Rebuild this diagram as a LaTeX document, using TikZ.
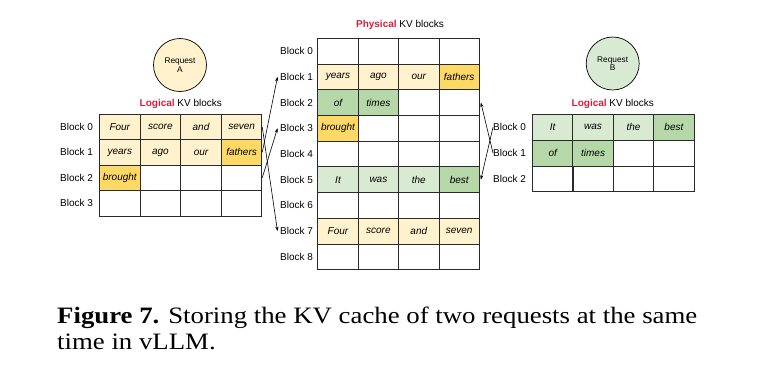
\documentclass[tikz,border=0pt]{standalone}
\usepackage{fontspec}
\setmainfont{Liberation Sans}
\newfontfamily\capfont[FakeStretch=1.14]{Liberation Serif}
\usetikzlibrary{arrows.meta}
\definecolor{ly}{HTML}{FFF2CC}
\definecolor{dy}{HTML}{FFD966}
\definecolor{lg}{HTML}{D9EAD3}
\definecolor{dg}{HTML}{B6D7A8}
\definecolor{redlab}{HTML}{D6203A}
\definecolor{gridc}{HTML}{2A2A2A}
\tikzset{
  cellbox/.style={draw=gridc, line width=0.8pt, inner sep=0pt, minimum width=40.5pt, minimum height=25.5pt, font=\fontsize{10}{12}\selectfont\itshape},
  blklab/.style={inner sep=0pt, font=\fontsize{10}{12}\selectfont},
  ttl/.style={inner sep=0pt, font=\fontsize{10}{12}\selectfont},
  reqc/.style={circle, draw=black, line width=0.7pt, minimum size=53pt, inner sep=0pt, align=center, font=\fontsize{8.3}{8.5}\selectfont},
  maparrow/.style={line width=0.6pt, -{Stealth[length=4.5pt,width=3.2pt]}},
  capline/.style={anchor=base west, inner sep=0pt, font=\capfont\fontsize{23.5}{26}\selectfont}
}
\begin{document}
\begin{tikzpicture}[x=1pt,y=-1pt]
\path[use as bounding box, fill=white] (0,0) rectangle (772,370);
% ---- titles
\node[ttl] (tL) at (180.8,104) {{\bfseries\color{redlab}Logical} KV blocks};
\node[ttl] (tP) at (400,25.3) {{\bfseries\color{redlab}Physical} KV blocks};
\node[ttl] (tR) at (612.8,104.3) {{\bfseries\color{redlab}Logical} KV blocks};
% ---- requests
\node[reqc, fill=ly] (reqA) at (180,65) {Request\\A};
\node[reqc, fill=lg] (reqB) at (612.7,63.5) {Request\\B};
% ---- left logical table
\foreach \r in {0,...,3}{
  \node[blklab, anchor=west] (Llab-\r) at (60,{114.3+25.4*(\r+0.5)}) {Block \r};
  \foreach \c in {0,...,3}{
    \node[cellbox] (L-\r-\c) at ({99.5+40.6*(\c+0.5)},{114.3+25.4*(\r+0.5)}) {};
  }
}
\foreach \r/\c/\t/\f in {0/0/Four/ly,0/1/score/ly,0/2/and/ly,0/3/seven/ly,
  1/0/years/ly,1/1/ago/ly,1/2/our/ly,1/3/fathers/dy,2/0/brought/dy}{
  \node[cellbox, fill=\f] (Lt-\r-\c) at (L-\r-\c) {\t};
}
% ---- physical table
\foreach \r in {0,...,8}{
  \node[blklab, anchor=west] (Plab-\r) at (280,{38.3+25.7*(\r+0.5)}) {Block \r};
  \foreach \c in {0,...,3}{
    \node[cellbox, minimum height=25.7pt] (P-\r-\c) at ({317.8+40.4*(\c+0.5)},{38.3+25.7*(\r+0.5)}) {};
  }
}
\foreach \r/\c/\t/\f in {1/0/years/ly,1/1/ago/ly,1/2/our/ly,1/3/fathers/dy,
  2/0/of/dg,2/1/times/dg,3/0/brought/dy,
  5/0/It/lg,5/1/was/lg,5/2/the/lg,5/3/best/dg,
  7/0/Four/ly,7/1/score/ly,7/2/and/ly,7/3/seven/ly}{
  \node[cellbox, minimum height=25.7pt, fill=\f] (Pt-\r-\c) at (P-\r-\c) {\t};
}
% ---- right logical table
\foreach \r in {0,...,2}{
  \node[blklab, anchor=west] (Rlab-\r) at (493,{114.3+25.8*(\r+0.5)}) {Block \r};
  \foreach \c in {0,...,3}{
    \node[cellbox, minimum height=25.8pt] (R-\r-\c) at ({532.5+40.4*(\c+0.5)},{114.3+25.8*(\r+0.5)}) {};
  }
}
\foreach \r/\c/\t/\f in {0/0/It/lg,0/1/was/lg,0/2/the/lg,0/3/best/dg,
  1/0/of/dg,1/1/times/dg}{
  \node[cellbox, minimum height=25.8pt, fill=\f] (Rt-\r-\c) at (R-\r-\c) {\t};
}
% ---- mapping arrows
\draw[maparrow] (L-0-3.east) -- ([xshift=-2.5pt]Plab-7.west);
\draw[maparrow] (Lt-1-3.east) -- ([xshift=-2.5pt]Plab-1.west);
\draw[maparrow] (L-2-3.east) -- ([xshift=-2.5pt]Plab-3.west);
\draw[maparrow] (Rlab-0.west) -- ([xshift=1pt]Pt-5-3.east);
\draw[maparrow] (Rlab-1.west) -- ([xshift=1pt]P-2-3.east);
% ---- caption
\node[capline] (cap1) at (57,323.3) {\textbf{Figure 7.} Storing the KV cache of two requests at the same};
\node[capline] (cap2) at (57,349.3) {time in vLLM.};
\end{tikzpicture}
\end{document}
